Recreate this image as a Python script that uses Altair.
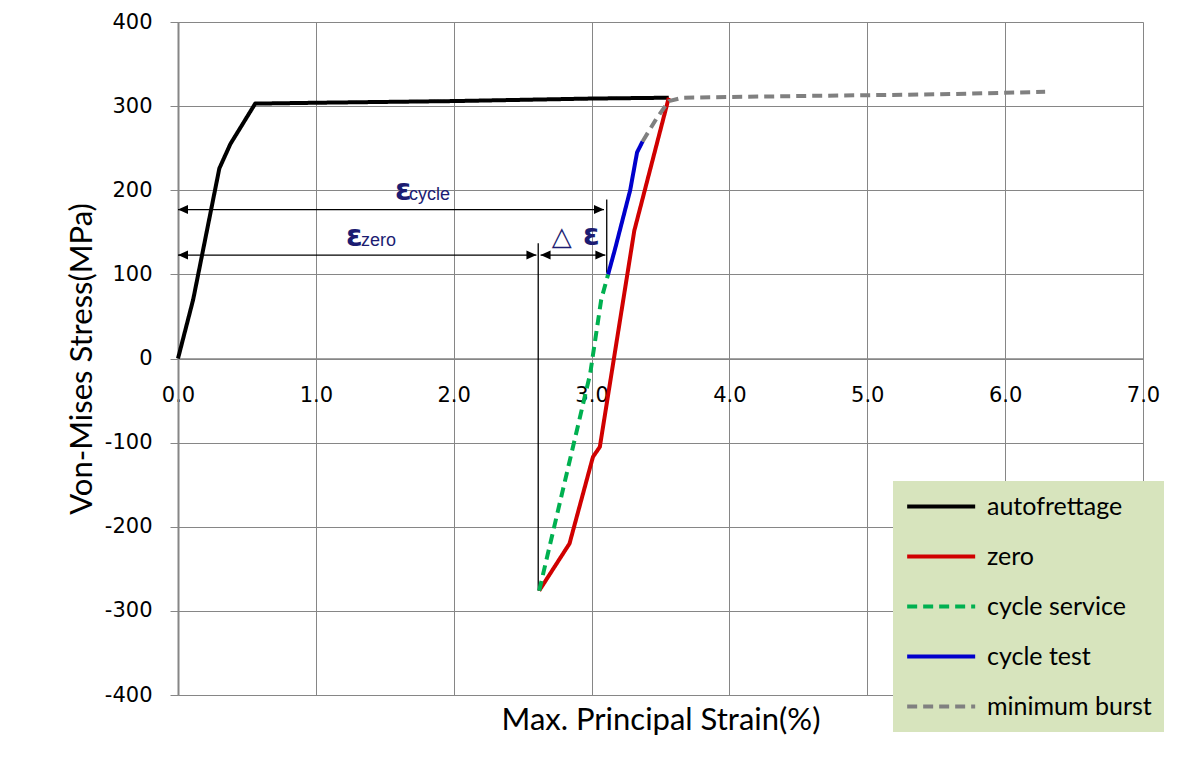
import altair as alt
import pandas as pd

# ---------------- data ----------------
series_names = ["autofrettage", "zero", "cycle service", "cycle test", "minimum burst"]
series_colors = ["#000000", "#d00000", "#00b050", "#0000cc", "#808080"]
series_dash = [[1, 0], [1, 0], [10, 6], [1, 0], [10, 6]]

auto_x = [0.0, 0.11, 0.30, 0.38, 0.56, 1.0, 2.0, 3.0, 3.56]
auto_y = [0, 70, 226, 255, 303, 304, 306, 309, 310]

zero_x = [3.56, 3.31, 3.06, 3.01, 2.84, 2.62]
zero_y = [310, 152, -105, -117, -220, -276]

service_x = [2.62, 2.99, 3.07, 3.12]
service_y = [-276, -18, 70, 100]

test_x = [3.12, 3.17, 3.28, 3.33, 3.37]
test_y = [100, 130, 200, 245, 258]

burst_x = [3.37, 3.47, 3.56, 3.66, 4.5, 5.5, 6.29]
burst_y = [258, 285, 306, 310, 312, 314, 317]

x_ticks = [0, 1, 2, 3, 4, 5, 6, 7]
y_ticks = [-400, -300, -200, -100, 0, 100, 200, 300, 400]

# dimension arrows (strain annotations)
harrow_x = [0.0, 0.0, 2.63]
harrow_x2 = [3.09, 2.60, 3.10]
harrow_y = [177, 123, 123]

vline_x = [3.11, 2.613]
vline_y = [102, -276]
vline_y2 = [189, 137]

eps_x = [1.574, 1.219, 2.938]
eps_y = [189, 134, 135]
sub_text = ["cycle", "zero"]
sub_x = [1.676, 1.327]
sub_y = [189, 134]
delta_text = ["△"]
delta_x = [2.711]
delta_y = [135]

# ---------------- tables ----------------
rows = []
for name, xs, ys in zip(series_names,
                        [auto_x, zero_x, service_x, test_x, burst_x],
                        [auto_y, zero_y, service_y, test_y, burst_y]):
    for i, (xv, yv) in enumerate(zip(xs, ys)):
        rows.append({"strain": xv, "stress": yv, "series": name, "idx": i})
lines_df = pd.DataFrame(rows)

harrow_df = pd.DataFrame({"x": harrow_x, "x2": harrow_x2, "y": harrow_y})
vline_df = pd.DataFrame({"x": vline_x, "y": vline_y, "y2": vline_y2})
left_tips = pd.DataFrame({"x": harrow_x, "y": harrow_y})
right_tips = pd.DataFrame({"x": harrow_x2, "y": harrow_y})
eps_df = pd.DataFrame({"x": eps_x, "y": eps_y, "t": ["ε"] * len(eps_x)})
sub_df = pd.DataFrame({"x": sub_x, "y": sub_y, "t": sub_text})
delta_df = pd.DataFrame({"x": delta_x, "y": delta_y, "t": delta_text})

W, H = 965, 673
FONT = "Lato"
TICKFONT = "DejaVu Sans"
GRID = "#868686"
NAVY = "#1c1c72"

xscale = alt.Scale(domain=[0, 7], nice=False, zero=False)
yscale = alt.Scale(domain=[-400, 400], nice=False)

legend = alt.Legend(
    title=None, orient="none", legendX=715, legendY=459,
    fillColor="#d7e4bd", padding=12, rowPadding=23,
    symbolType="M-1,0 L5,0", symbolSize=514, symbolStrokeWidth=4,
    labelFontSize=25, labelFont=FONT, labelColor="#000000", labelOffset=55,
    labelLimit=300,
)

x_axis = alt.Axis(
    values=x_ticks, format=".1f", offset=-(H / 2), tickSize=5, labelPadding=21,
    labelFontSize=21, labelFont=TICKFONT, labelColor="#000000", labelFlush=False,
    domainColor=GRID, domainWidth=1.5, tickColor=GRID, gridColor=GRID, gridOpacity=1,
    title="Max. Principal Strain(%)", titleFontSize=31, titleFont=FONT,
    titleFontWeight="normal", titleColor="#000000", titleY=362, titleBaseline="middle",
)
y_axis = alt.Axis(
    values=y_ticks, labelExpr="'' + datum.value", tickSize=8, labelPadding=18,
    labelFontSize=21, labelFont=TICKFONT, labelColor="#000000", labelFlush=False,
    domainColor=GRID, domainWidth=2, tickColor=GRID, gridColor=GRID, gridOpacity=1,
    title="Von-Mises Stress(MPa)", titleFontSize=31, titleFont=FONT,
    titleFontWeight="normal", titleColor="#000000", titleX=-96, titleBaseline="middle",
)

lines = alt.Chart(lines_df).mark_line(strokeWidth=4, strokeJoin="round").encode(
    x=alt.X("strain:Q", scale=xscale, axis=x_axis),
    y=alt.Y("stress:Q", scale=yscale, axis=y_axis),
    color=alt.Color("series:N", scale=alt.Scale(domain=series_names, range=series_colors), legend=legend),
    strokeDash=alt.StrokeDash("series:N", scale=alt.Scale(domain=series_names, range=series_dash), legend=legend),
    order="idx:Q",
)

hrules = alt.Chart(harrow_df).mark_rule(color="black", strokeWidth=1.3).encode(
    x=alt.X("x:Q", scale=xscale), x2="x2:Q", y=alt.Y("y:Q", scale=yscale)
)
vrules = alt.Chart(vline_df).mark_rule(color="black", strokeWidth=1.3).encode(
    x=alt.X("x:Q", scale=xscale), y=alt.Y("y:Q", scale=yscale), y2="y2:Q"
)
ltips = alt.Chart(left_tips).mark_point(
    shape="M0,0 L2,-0.9 L2,0.9 Z", filled=True, color="black", opacity=1, size=100
).encode(x=alt.X("x:Q", scale=xscale), y=alt.Y("y:Q", scale=yscale))
rtips = alt.Chart(right_tips).mark_point(
    shape="M0,0 L-2,-0.9 L-2,0.9 Z", filled=True, color="black", opacity=1, size=100
).encode(x=alt.X("x:Q", scale=xscale), y=alt.Y("y:Q", scale=yscale))

eps_text = alt.Chart(eps_df).mark_text(
    align="left", baseline="alphabetic", fontSize=30, fontWeight="bold", color=NAVY, font="DejaVu Sans"
).encode(x=alt.X("x:Q", scale=xscale), y=alt.Y("y:Q", scale=yscale), text="t:N")
sub_txt = alt.Chart(sub_df).mark_text(
    align="left", baseline="alphabetic", fontSize=18, color=NAVY, font="Liberation Sans"
).encode(x=alt.X("x:Q", scale=xscale), y=alt.Y("y:Q", scale=yscale), text="t:N")
delta_txt = alt.Chart(delta_df).mark_text(
    align="left", baseline="alphabetic", fontSize=26, color=NAVY, font="DejaVu Sans"
).encode(x=alt.X("x:Q", scale=xscale), y=alt.Y("y:Q", scale=yscale), text="t:N")

chart = alt.layer(
    hrules, vrules, ltips, rtips, lines, eps_text, sub_txt, delta_txt
).properties(
    width=W, height=H,
    autosize=alt.AutoSizeParams(type="none"),
    padding={"left": 170, "top": 14, "right": 30, "bottom": 50},
).configure_view(stroke=None).configure(background="white")

chart.save("out.html", embed_options={"renderer": "svg", "actions": False})
